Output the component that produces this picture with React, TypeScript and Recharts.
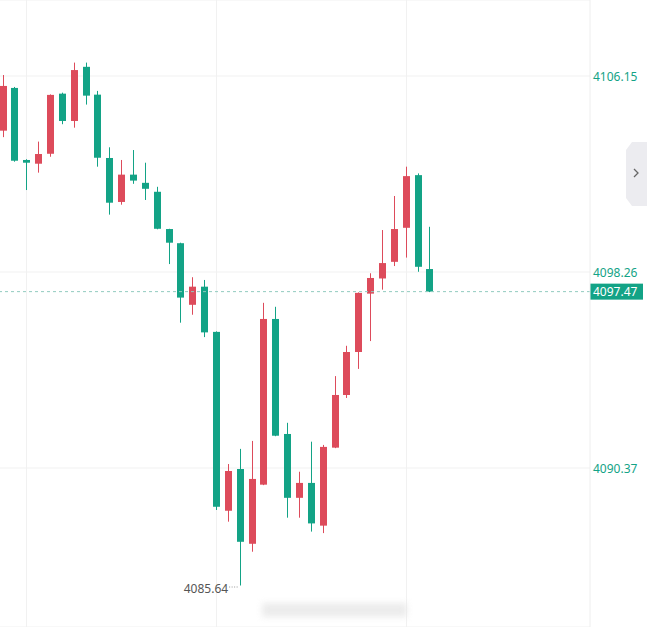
import React from "react";
import {
    ComposedChart,
    Bar,
    XAxis,
    YAxis,
    CartesianGrid,
    ReferenceLine,
    ReferenceDot,
} from "recharts";

// OHLC per candle (left to right)
const opens = [
    4103.95, 4105.67, 4102.77, 4102.62, 4103.02, 4105.44, 4104.34, 4106.52,
    4105.4, 4102.85, 4101.08, 4102.18, 4101.85, 4101.49, 4099.99, 4099.42,
    4096.94, 4097.67, 4095.85, 4088.65, 4090.33, 4087.32, 4089.7, 4096.37,
    4091.74, 4089.17, 4089.77, 4088.05, 4091.19, 4093.31, 4095.04, 4097.39,
    4098.0, 4098.67, 4100.04, 4102.16, 4098.38,
];
const highs = [
    4106.19, 4105.71, 4102.8, 4103.51, 4105.41, 4105.48, 4106.69, 4106.69,
    4105.55, 4103.28, 4102.77, 4103.17, 4102.66, 4101.69, 4100.0, 4099.44,
    4098.05, 4097.94, 4095.87, 4090.53, 4091.14, 4091.46, 4097.02, 4096.86,
    4092.19, 4090.22, 4091.43, 4091.3, 4094.07, 4095.29, 4097.44, 4098.21,
    4099.95, 4101.32, 4102.5, 4102.23, 4100.08,
];
const lows = [
    4103.69, 4102.7, 4101.56, 4102.26, 4102.9, 4104.21, 4104.07, 4105.0,
    4102.5, 4100.57, 4100.97, 4101.81, 4101.16, 4099.98, 4098.58, 4096.22,
    4096.54, 4095.64, 4088.68, 4088.21, 4085.64, 4087.0, 4089.68, 4091.65,
    4088.37, 4088.37, 4087.81, 4087.75, 4091.17, 4093.19, 4094.36, 4095.48,
    4097.55, 4098.5, 4098.84, 4098.27, 4097.45,
];
const closes = [
    4105.75, 4102.74, 4102.66, 4103.01, 4105.39, 4104.34, 4106.39, 4105.36,
    4102.86, 4101.05, 4102.18, 4101.94, 4101.61, 4100.0, 4099.44, 4097.23,
    4097.67, 4095.83, 4088.81, 4090.25, 4087.4, 4089.93, 4096.37, 4091.67,
    4089.17, 4089.77, 4088.14, 4091.22, 4093.31, 4095.04, 4097.42, 4098.02,
    4098.62, 4099.99, 4102.12, 4098.47, 4097.47,
];

const priceTicks = [4090.37, 4098.26, 4106.15];
const lastPrice = 4097.47;
const minPrice = 4085.64;
const minIndex = 20;
const timeGridIndexes = [2, 18, 34];
const emptySlots = 13;

const UP = "#dd4b5b";
const DOWN = "#13a386";
const FONT = "Noto Sans, sans-serif";

const data = [
    ...opens.map((open, i) => ({
        i,
        open,
        high: highs[i],
        low: lows[i],
        close: closes[i],
        range: [lows[i], highs[i]],
    })),
    ...Array.from({ length: emptySlots }, (_, k) => ({ i: opens.length + k })),
];

function Candle(props: any) {
    const { x, y, width, height, payload } = props;
    if (!payload || payload.open == null) return null;
    const { open, close, high, low } = payload;
    const top = Math.min(y, y + height);
    const h = Math.abs(height);
    const span = high - low;
    const py = (v: number) => (span === 0 ? top : top + ((high - v) / span) * h);
    const color = close >= open ? UP : DOWN;
    const cx = Math.round(x + width / 2) + 0.5;
    const bodyTop = py(Math.max(open, close));
    const bodyBottom = py(Math.min(open, close));
    return (
        <g>
            <line x1={cx} x2={cx} y1={top} y2={top + h} stroke={color} strokeWidth={1} />
            <rect
                x={cx - 3.5}
                y={bodyTop}
                width={7}
                height={Math.max(1, bodyBottom - bodyTop)}
                fill={color}
            />
        </g>
    );
}

// the bar background spans the whole column, so it carries the vertical time grid behind the candles
function TimeGrid(props: any) {
    const { x, y, width, height, index, payload } = props;
    const idx = payload && payload.i != null ? payload.i : index;
    if (!timeGridIndexes.includes(idx)) return null;
    const cx = Math.round(x + width / 2) + 0.5;
    return <line x1={cx} x2={cx} y1={y} y2={y + height} stroke="#f1f1f1" strokeWidth={1} />;
}

const PriceTick = ({ x, y, payload }: any) => (
    <text x={x} y={y} dy={5} fill={DOWN} fontSize={12} fontFamily={FONT}>
        {Number(payload.value).toFixed(2)}
    </text>
);

const LastPriceLabel = ({ viewBox }: any) => {
    if (!viewBox) return null;
    const x = viewBox.x + viewBox.width;
    const y = viewBox.y;
    return (
        <g>
            <rect x={x} y={y - 8} width={53} height={16} fill={DOWN} />
            <text x={x + 3} y={y + 4.5} fill="#ffffff" fontSize={12} fontFamily={FONT}>
                {lastPrice.toFixed(2)}
            </text>
        </g>
    );
};

const MinMarker = ({ cx, cy }: any) => (
    <g>
        <line
            x1={cx - 11}
            x2={cx - 1}
            y1={cy + 1.5}
            y2={cy + 1.5}
            stroke="#999999"
            strokeDasharray="1 1.5"
        />
        <text
            x={cx - 12}
            y={cy + 7}
            textAnchor="end"
            fill="#555555"
            fontSize={12}
            fontFamily={FONT}
        >
            {minPrice.toFixed(2)}
        </text>
    </g>
);

export default function App() {
    return (
        <div style={{ position: "absolute", left: 0, top: 0, width: 647, height: 627, overflow: "hidden", background: "#fff" }}>
            <div style={{ position: "absolute", left: -3, top: 0 }}>
                <ComposedChart
                    width={650}
                    height={627}
                    data={data}
                    margin={{ top: 0, right: 0, bottom: 0, left: 0 }}
                    barCategoryGap={0}
                >
                    <CartesianGrid vertical={false} stroke="#f1f1f1" />
                    <XAxis dataKey="i" type="category" hide />
                    <YAxis
                        orientation="right"
                        width={57}
                        domain={[4083.97, 4109.21]}
                        ticks={priceTicks}
                        allowDataOverflow
                        tickLine={false}
                        tickSize={0}
                        tickMargin={3}
                        axisLine={{ stroke: "#eeeeee" }}
                        tick={<PriceTick />}
                    />
                    <Bar
                        dataKey="range"
                        barSize={7}
                        background={<TimeGrid />}
                        shape={<Candle />}
                        isAnimationActive={false}
                    />
                    <ReferenceLine
                        y={lastPrice}
                        stroke="#92cbbf"
                        strokeDasharray="3 3"
                        label={<LastPriceLabel />}
                    />
                    <ReferenceDot
                        x={minIndex}
                        y={minPrice}
                        r={0}
                        shape={<MinMarker />}
                    />
                </ComposedChart>
            </div>
            <svg
                width={22}
                height={64}
                style={{ position: "absolute", left: 626, top: 142 }}
            >
                <path d="M6 0 L22 0 L22 64 L6 64 L0 56 L0 8 Z" fill="#ececf0" />
                <path d="M8 27 L12 31 L8 35" stroke="#666" strokeWidth={1.3} fill="none" />
            </svg>
            <div
                style={{
                    position: "absolute",
                    left: 262,
                    top: 603,
                    width: 145,
                    height: 14,
                    background: "#e4e4e4",
                    filter: "blur(3px)",
                    opacity: 0.7,
                }}
            />
        </div>
    );
}
